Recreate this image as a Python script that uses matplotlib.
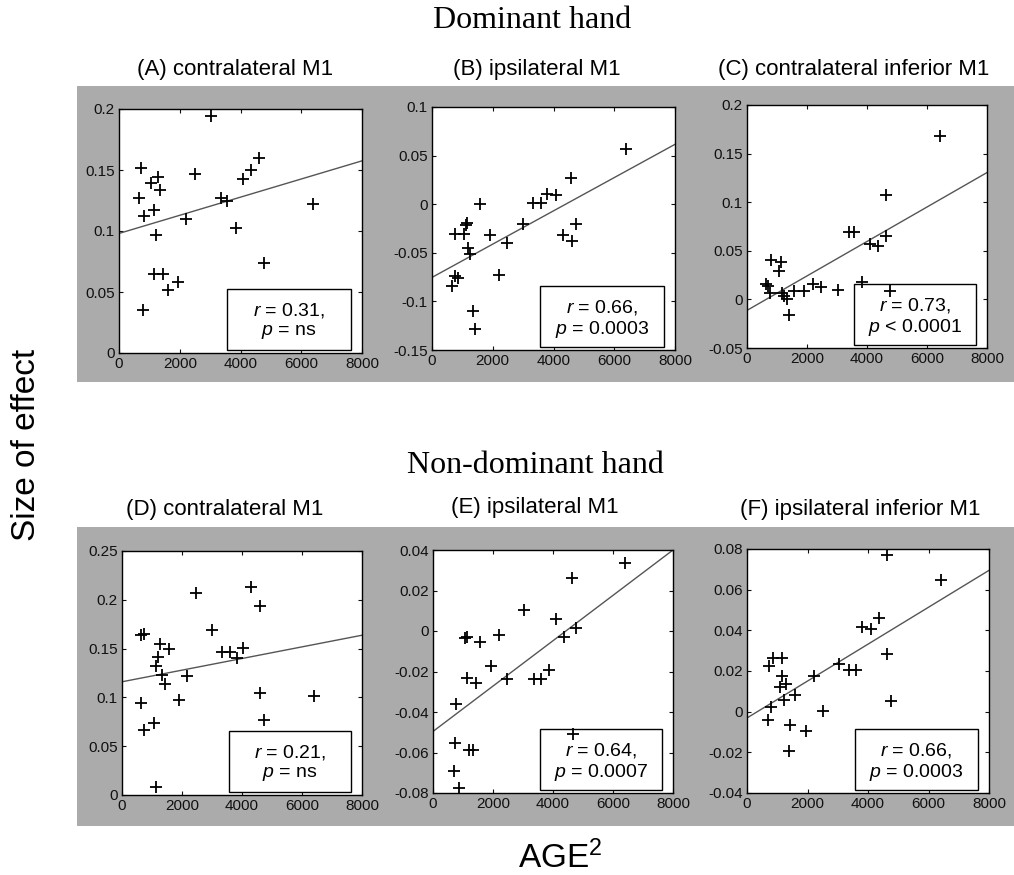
import numpy as np
import matplotlib
matplotlib.use('Agg')
import matplotlib.pyplot as plt
from matplotlib.patches import Rectangle
from matplotlib.ticker import FuncFormatter

plt.rcParams['font.family'] = 'Liberation Sans'
plt.rcParams['mathtext.fontset'] = 'custom'
plt.rcParams['mathtext.rm'] = 'Liberation Sans'
plt.rcParams['mathtext.it'] = 'Liberation Sans:italic'

# AGE^2 (x) and size of effect (y) per panel
xA = [3022, 725, 670, 1055, 1297, 1352, 1154, 835, 1220, 1154, 1440, 1604, 1934, 802,
      2198, 2494, 3374, 3549, 3846, 4077, 4341, 4615, 4769, 6385]
yA = [0.194, 0.152, 0.127, 0.139, 0.144, 0.134, 0.1175, 0.112, 0.097, 0.065, 0.065, 0.0515,
      0.058, 0.035, 0.110, 0.147, 0.127, 0.125, 0.1025, 0.143, 0.150, 0.160, 0.074, 0.122]

xB = [6374, 4582, 3802, 4066, 3330, 3582, 1571, 3000, 4736, 4297, 4604, 2483, 1923, 769,
      1044, 1154, 1110, 1187, 1242, 2198, 758, 857, 670, 1352, 1429]
yB = [0.057, 0.027, 0.011, 0.009, 0.001, 0.001, 0.0, -0.0205, -0.020, -0.032, -0.038, -0.040,
      -0.032, -0.031, -0.031, -0.019, -0.021, -0.045, -0.051, -0.073, -0.074, -0.076, -0.084,
      -0.110, -0.128]

xC = [6422, 4644, 3400, 3578, 4089, 4367, 4644, 800, 1133, 1056, 644, 689, 778, 1167, 1244,
      1333, 1411, 1578, 1911, 2189, 2467, 3022, 3833, 4778]
yC = [0.168, 0.1075, 0.069, 0.069, 0.057, 0.055, 0.065, 0.041, 0.038, 0.029, 0.016, 0.014,
      0.0065, 0.0065, 0.003, 0.0003, -0.016, 0.009, 0.009, 0.016, 0.013, 0.010, 0.018, 0.009]

xD = [4310, 2471, 4598, 643, 742, 2992, 1252, 1573, 3335, 3601, 4044, 3822, 1186, 1141,
      1330, 1440, 2161, 1906, 643, 4598, 6404, 1053, 742, 4742, 1141]
yD = [0.213, 0.207, 0.194, 0.164, 0.165, 0.169, 0.1545, 0.150, 0.147, 0.147, 0.151, 0.1405,
      0.1415, 0.132, 0.123, 0.114, 0.122, 0.097, 0.0945, 0.104, 0.1015, 0.074, 0.0665, 0.077,
      0.008]

xE = [6411, 4633, 3022, 4111, 4778, 4356, 1056, 1144, 1556, 2189, 1933, 1133, 1422, 2478,
      3356, 3611, 3856, 756, 4667, 722, 1200, 1333, 689, 856]
yE = [0.0334, 0.026, 0.0104, 0.0058, 0.0014, -0.0032, -0.0036, -0.0031, -0.0055, -0.0022,
      -0.0175, -0.0233, -0.0258, -0.0236, -0.0236, -0.0236, -0.0192, -0.0359, -0.0509,
      -0.0553, -0.059, -0.059, -0.069, -0.0775]

xF = [4622, 6415, 4369, 3818, 4092, 4622, 3026, 3356, 3598, 2201, 737, 858, 1155, 1155,
      1100, 1298, 1210, 1595, 803, 2509, 682, 1430, 1947, 1375, 4765]
yF = [0.0772, 0.0646, 0.0461, 0.0416, 0.0407, 0.0284, 0.0236, 0.0203, 0.0203, 0.0174,
      0.0226, 0.0264, 0.0264, 0.0174, 0.0121, 0.0138, 0.0059, 0.008, 0.0023, 0.0002,
      -0.0039, -0.0067, -0.0097, -0.0195, 0.0052]

# regression line values at AGE^2 = 0 and 8000
fit_x = [0, 8000]
fitA = [0.098, 0.1575]
fitB = [-0.0753, 0.0616]
fitC = [-0.0113, 0.1305]
fitD = [0.116, 0.1637]
fitE = [-0.0496, 0.040]
fitF = [-0.0031, 0.0695]

titles = ['(A) contralateral M1', '(B) ipsilateral M1', '(C) contralateral inferior M1',
          '(D) contralateral M1', '(E) ipsilateral M1', '(F) ipsilateral inferior M1']
r_text = ['0.31', '0.66', '0.73', '0.21', '0.64', '0.66']
p_text = ['= ns', '= 0.0003', '< 0.0001', '= ns', '= 0.0007', '= 0.0003']
ylims = [(0, 0.2), (-0.15, 0.1), (-0.05, 0.2), (0, 0.25), (-0.08, 0.04), (-0.04, 0.08)]
ysteps = [0.05, 0.05, 0.05, 0.05, 0.02, 0.02]

W, H = 1014, 875
fig = plt.figure(figsize=(W / 100, H / 100), dpi=100)


def fx(px):
    return px / W


def fy(py):
    return 1 - py / H


# gray background bands, drawn behind the axes
bg = fig.add_axes([0, 0, 1, 1], zorder=-1)
bg.set_xlim(0, W)
bg.set_ylim(H, 0)
bg.axis('off')
for top, bot in [(86, 382), (527, 826)]:
    bg.add_patch(Rectangle((77, top), W - 77, bot - top, facecolor='#ababab',
                           edgecolor='none'))

# axes boxes in pixels: left, right, top, bottom
boxes = [(119, 362, 109, 353), (432, 675, 107, 350), (747, 987, 105, 348),
         (122, 362, 551, 795), (433, 673, 550, 793), (747, 989, 549, 793)]
title_pos = [(235, 70), (537, 70), (854, 70), (225, 510), (535, 508), (860, 510)]

xs = [xA, xB, xC, xD, xE, xF]
ys = [yA, yB, yC, yD, yE, yF]
fits = [fitA, fitB, fitC, fitD, fitE, fitF]

fmt = FuncFormatter(lambda v, _: ('%g' % round(v, 4)))

for i in range(6):
    l, r, t, b = boxes[i]
    ax = fig.add_axes([fx(l), fy(b), (r - l) / W, (b - t) / H])
    ax.set_facecolor('white')
    ax.plot(fit_x, fits[i], '-', color='#555555', lw=1.0, zorder=2)
    ax.plot(xs[i], ys[i], '+', color='black', ms=9, mew=1.3, zorder=5)
    ax.set_xlim(0, 8000)
    ax.set_ylim(ylims[i])
    ax.set_xticks(np.arange(0, 8001, 2000))
    lo, hi = ylims[i]
    ax.set_yticks(np.arange(lo, hi + 1e-9, ysteps[i]))
    ax.yaxis.set_major_formatter(fmt)
    ax.tick_params(direction='in', length=3, width=0.8, top=True, right=True,
                   labelsize=11, colors='#111111', pad=3)
    for s in ax.spines.values():
        s.set_linewidth(1.0)
        s.set_color('black')
    ax.add_patch(Rectangle((0.445, 0.013), 0.51, 0.249, transform=ax.transAxes,
                           facecolor='white', edgecolor='black', lw=1.0, zorder=3))
    ax.text(0.7, 0.175, r'$\mathit{r}$ = ' + r_text[i] + ',', transform=ax.transAxes,
            ha='center', va='center', fontsize=14, zorder=4)
    ax.text(0.7, 0.085, r'$\mathit{p}$ ' + p_text[i], transform=ax.transAxes,
            ha='center', va='center', fontsize=14, zorder=4)
    tx, ty = title_pos[i]
    fig.text(fx(tx), fy(ty), titles[i], ha='center', va='center', fontsize=16)

fig.text(fx(532), fy(21), 'Dominant hand', ha='center', va='center', fontsize=23,
         family='Liberation Serif')
fig.text(fx(535), fy(465), 'Non-dominant hand', ha='center', va='center', fontsize=23,
         family='Liberation Serif')
fig.text(fx(27), fy(445), 'Size of effect', rotation=90, ha='center', va='center',
         fontsize=24)
fig.text(fx(560), fy(858), r'AGE$^{\mathregular{2}}$', ha='center', va='center', fontsize=24)

fig.savefig('out.png', dpi=100)
